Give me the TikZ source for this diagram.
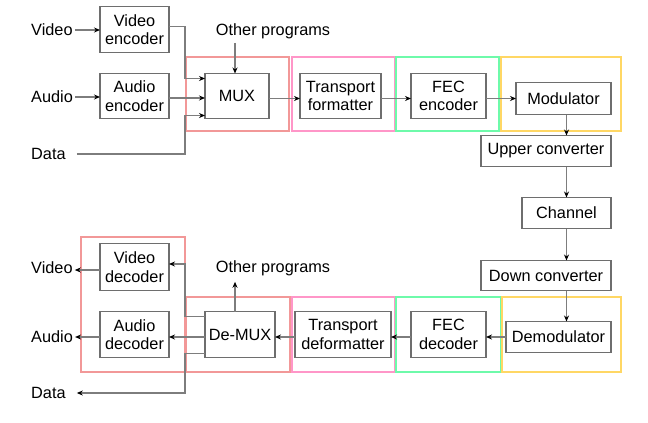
\documentclass[tikz,border=0pt]{standalone}
\usepackage{fontspec}
\setmainfont{Liberation Sans}
\usetikzlibrary{arrows.meta, positioning, calc}
\definecolor{boxgray}{RGB}{110,110,110}
\definecolor{linegray}{RGB}{125,125,125}
\definecolor{myred}{RGB}{242,152,152}
\definecolor{mypink}{RGB}{255,150,200}
\definecolor{mygreen}{RGB}{110,250,170}
\definecolor{myyellow}{RGB}{255,215,100}

\begin{document}
\begin{tikzpicture}[
    x=1pt, y=-1pt,
    box/.style={rectangle, draw=boxgray, line width=1.3pt, fill=white, inner sep=0pt, outer sep=0pt, align=center, minimum height=46pt, font=\fontsize{16.3}{18.5}\selectfont},
    lbl/.style={inner sep=2pt, font=\fontsize{16.3}{18.5}\selectfont},
    frame/.style={line width=1.5pt, draw=#1},
    line/.style={draw=linegray, line width=1.3pt},
    arrow/.style={line, -{Stealth[length=6pt, width=5pt, color=black]}}
]
\useasboundingbox[fill=white] (0,0) rectangle (648,423);

% Group frames
\draw[frame=myred] (186,57) rectangle (289,131);
\draw[frame=mypink] (292,57) rectangle (395,131);
\draw[frame=mygreen] (396,57) rectangle (499,131);
\draw[frame=myyellow] (501,57) rectangle (621,131);
\draw[frame=myred] (81,237) rectangle (185,372);
\draw[frame=myred] (186,297) rectangle (290,372);
\draw[frame=mypink] (292,297) rectangle (395,372);
\draw[frame=mygreen] (396,297) rectangle (501,372);
\draw[frame=myyellow] (502,297) rectangle (621,372);

% Transmitter
\node[box, minimum width=69pt] (venc) at (134.5,29.5) {Video\\encoder};
\node[box, minimum width=69pt, minimum height=45pt, below=21pt of venc] (aenc) {Audio\\encoder};
\node[box, minimum width=64pt, minimum height=45pt, right=36pt of aenc] (mux) {MUX};
\node[box, minimum width=81pt, minimum height=45pt, right=31pt of mux] (tfmt) {Transport\\formatter};
\node[box, minimum width=75pt, minimum height=45pt, right=30pt of tfmt] (fecenc) {FEC\\encoder};
\node[box, minimum width=95pt, minimum height=32pt, right=30pt of fecenc, yshift=-2.5pt] (mod) {Modulator};

% Channel path
\node[box, minimum width=130pt, minimum height=31pt, below left=21pt and 0pt of mod.south east] (upconv) {Upper converter};
\node[box, minimum width=89pt, minimum height=31pt, below left=31pt and 0pt of upconv.south east] (channel) {Channel};
\node[box, minimum width=130pt, minimum height=30pt, below left=32pt and 0pt of channel.south east] (downconv) {Down converter};
\node[box, minimum width=105pt, minimum height=31pt, below left=31pt and 0pt of downconv.south east] (demod) {Demodulator};

% Receiver
\node[box, minimum width=75pt, left=20pt of demod, yshift=2.5pt] (fecdec) {FEC\\decoder};
\node[box, minimum width=96pt, left=20pt of fecdec] (tdfmt) {Transport\\deformatter};
\node[box, minimum width=70pt, left=20pt of tdfmt] (demux) {De-MUX};
\node[box, minimum width=69pt, left=36pt of demux] (adec) {Audio\\decoder};
\node[box, minimum width=69pt, minimum height=47pt, above=21pt of adec] (vdec) {Video\\decoder};

% Labels
\node[lbl, anchor=west] (vin) at (29,30) {Video};
\node[lbl, anchor=west] (ain) at (29,97) {Audio};
\node[lbl, anchor=west] (din) at (29,154) {Data};
\node[lbl] (opin) at (273,31) {Other programs};
\node[lbl, anchor=west] (vout) at (29,268) {Video};
\node[lbl, anchor=west] (aout) at (29,337) {Audio};
\node[lbl, anchor=west] (dout) at (29,393) {Data};
\node[lbl] (opout) at (273,268) {Other programs};

% Arrows, transmitter
\draw[arrow] (vin.east) -- (vin.east -| venc.west);
\draw[arrow] (ain.east) -- (ain.east -| aenc.west);
\draw[arrow] ($(venc.east)+(0,-3)$) -- ++(16,0) |- ($(mux.west)+(0,-17.5)$);
\draw[arrow] ($(aenc.east)+(0,2)$) -- ($(mux.west)+(0,2)$);
\draw[arrow, shorten <=9pt] (din.east) -| ($(mux.west)+(-20,19.5)$) -- ($(mux.west)+(0,19.5)$);
\draw[arrow] ($(opin.south -| mux.north)+(-2,2)$) -- ($(mux.north)+(-2,0)$);
\draw[arrow] (mod.west -| mux.east) -- (mod.west -| tfmt.west);
\draw[arrow] (mod.west -| tfmt.east) -- (mod.west -| fecenc.west);
\draw[arrow] (mod.west -| fecenc.east) -- (mod.west);

% Arrows, channel path
\draw[arrow] (mod.south -| channel.north) -- (upconv.north -| channel.north);
\draw[arrow] (upconv.south -| channel.north) -- (channel.north);
\draw[arrow] (channel.south) -- (downconv.north -| channel.south);
\draw[arrow] (downconv.south -| channel.south) -- (demod.north -| channel.south);

% Arrows, receiver
\draw[arrow] (demod.west) -- (demod.west -| fecdec.east);
\draw[arrow] (fecdec.west |- demod.west) -- (tdfmt.east |- demod.west);
\draw[arrow] (tdfmt.west |- demod.west) -- (demux.east |- demod.west);
\draw[arrow] (demux.west |- demod.west) -- (adec.east |- demod.west);
\draw[arrow] ($(demux.west)+(0,-18)$) -- ++(-20,0) |- ($(vdec.east)+(0,-3)$);
\draw[arrow, shorten >=9pt] ($(demux.west)+(0,19)$) -- ++(-20,0) |- (dout.east);
\draw[arrow] ($(demux.north)+(-5,0)$) -- ($(opout.south -| demux.north)+(-5,4)$);
\draw[arrow] ($(vdec.west)+(0,3)$) -- ($(vdec.west -| vout.east)+(0,3)$);
\draw[arrow] (adec.west |- demod.west) -- (aout.east |- demod.west);

\end{tikzpicture}
\end{document}
